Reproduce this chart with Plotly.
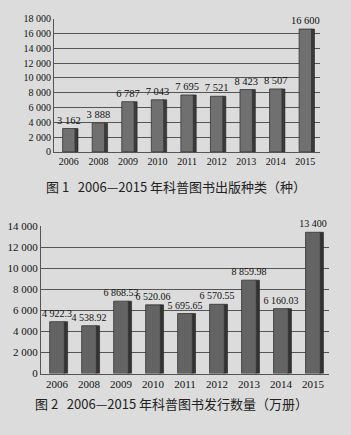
import plotly.graph_objects as go

years = ["2006", "2008", "2009", "2010", "2011", "2012", "2013", "2014", "2015"]
kinds = [3162, 3888, 6787, 7043, 7695, 7521, 8423, 8507, 16600]
kinds_text = ["3 162", "3 888", "6 787", "7 043", "7 695", "7 521", "8 423", "8 507", "16 600"]
copies = [4922.3, 4538.92, 6868.53, 6520.06, 5695.65, 6570.55, 8859.98, 6160.03, 13400]
copies_text = ["4 922.3", "4 538.92", "6 868.53", "6 520.06", "5 695.65", "6 570.55", "8 859.98", "6 160.03", "13 400"]
ticks1 = [0, 2000, 4000, 6000, 8000, 10000, 12000, 14000, 16000, 18000]
ticks1_text = ["0", "2 000", "4 000", "6 000", "8 000", "10 000", "12 000", "14 000", "16 000", "18 000"]
ticks2 = [0, 2000, 4000, 6000, 8000, 10000, 12000, 14000]
ticks2_text = ["0", "2 000", "4 000", "6 000", "8 000", "10 000", "12 000", "14 000"]

serif = "Liberation Serif"
cjk = "Noto Sans CJK SC"
bg = "#dcdcdc"

fig = go.Figure()

def add_bars(x, y, text, xa, ya, face, side, w, fs):
    fig.add_trace(go.Bar(x=x, y=y, xaxis=xa, yaxis=ya, width=0.12, offset=w/2 - 0.02,
                         marker=dict(color=side, line=dict(color="#222", width=0.6)),
                         hoverinfo="skip", showlegend=False))
    fig.add_trace(go.Bar(x=x, y=y, xaxis=xa, yaxis=ya, width=w, offset=-w/2,
                         marker=dict(color=face, line=dict(color="#333", width=0.8)),
                         text=text, textposition="outside", cliponaxis=False,
                         constraintext="none",
                         textfont=dict(family=serif, size=fs, color="#111"),
                         showlegend=False))

add_bars(years, kinds, kinds_text, "x", "y", "#707070", "#3a3a3a", 0.42, 10.5)
add_bars(years, copies, copies_text, "x2", "y2", "#646464", "#333333", 0.46, 10)

axis_font = dict(family=serif, size=10, color="#111")
fig.update_layout(
    width=351, height=435, margin=dict(l=0, r=0, t=0, b=0),
    paper_bgcolor=bg, plot_bgcolor=bg, barmode="overlay",
    xaxis=dict(domain=[0.154, 0.912], anchor="y", showgrid=False, tickfont=axis_font,
               ticks="", showline=True, linecolor="#555", linewidth=1),
    yaxis=dict(domain=[0.655, 0.970], anchor="x", range=[0, 18000], tickvals=ticks1,
               ticktext=ticks1_text, tickfont=axis_font, gridcolor="#555", gridwidth=0.7,
               showline=True, linecolor="#555", linewidth=1, zeroline=False),
    xaxis2=dict(domain=[0.117, 0.937], anchor="y2", showgrid=False, tickfont=dict(family=serif, size=11, color="#111"),
                ticks="", showline=True, linecolor="#555", linewidth=1),
    yaxis2=dict(domain=[0.131, 0.480], anchor="x2", range=[0, 14000], tickvals=ticks2,
                ticktext=ticks2_text, tickfont=dict(family=serif, size=11, color="#111"),
                gridcolor="#555", gridwidth=0.7,
                showline=True, linecolor="#555", linewidth=1, zeroline=False),
    annotations=[
        dict(text="图 1   2006—2015 年科普图书出版种类（种）", xref="paper", yref="paper",
             x=0.5, y=1 - 186/435, showarrow=False, font=dict(family=cjk, size=13, color="#222")),
        dict(text="图 2   2006—2015 年科普图书发行数量（万册）", xref="paper", yref="paper",
             x=0.49, y=1 - 421/435, showarrow=False, font=dict(family=cjk, size=13, color="#222")),
    ],
)

fig.write_html("out.html")
